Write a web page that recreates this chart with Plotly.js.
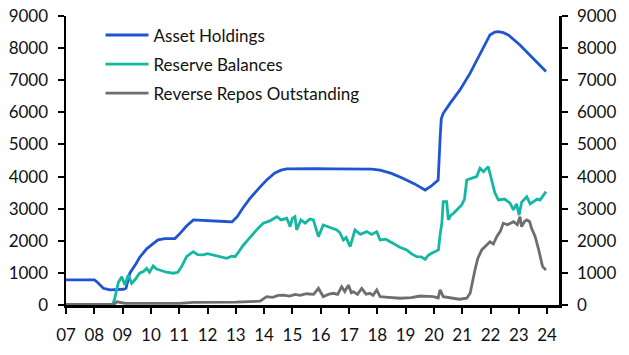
<!DOCTYPE html>
<html><head><meta charset="utf-8">
<script src="https://cdn.plot.ly/plotly-3.0.1.min.js"></script>
<style>html,body{margin:0;padding:0;background:#fff}#c{width:629px;height:355px}</style>
</head><body><div id="c"></div>
<script>
// Decimal-year positions and values (USD bn)
var assetX = [2007.0,2007.5,2008.0,2008.08,2008.2,2008.32,2008.55,2008.8,2009.03,2009.12,2009.26,2009.45,2009.6,2009.85,2010.05,2010.25,2010.5,2010.85,2011.0,2011.25,2011.5,2011.8,2012.2,2012.6,2012.87,2013.05,2013.25,2013.5,2013.86,2014.1,2014.38,2014.6,2014.8,2015.2,2015.8,2016.5,2017.2,2017.8,2018.1,2018.5,2018.9,2019.3,2019.69,2019.9,2020.15,2020.18,2020.22,2020.26,2020.33,2020.57,2020.92,2021.28,2021.63,2021.98,2022.15,2022.28,2022.45,2022.63,2023.04,2023.51,2023.96];
var assetY = [780,780,780,730,620,520,470,480,490,520,1000,1250,1480,1750,1900,2030,2070,2070,2200,2450,2650,2630,2610,2600,2590,2750,3020,3320,3680,3900,4110,4200,4240,4250,4250,4240,4240,4230,4200,4100,3950,3780,3580,3700,3890,4300,5200,5800,5970,6280,6700,7220,7840,8410,8500,8515,8480,8410,8100,7690,7270];

var reserveX = [2007.0,2008.65,2008.72,2008.85,2008.97,2009.08,2009.2,2009.32,2009.45,2009.6,2009.75,2009.85,2009.95,2010.08,2010.2,2010.32,2010.55,2010.79,2010.95,2011.08,2011.26,2011.4,2011.5,2011.65,2011.85,2012.0,2012.2,2012.45,2012.68,2012.85,2012.97,2013.1,2013.27,2013.45,2013.62,2013.8,2013.97,2014.2,2014.45,2014.6,2014.8,2014.92,2015.0,2015.09,2015.15,2015.3,2015.45,2015.62,2015.74,2015.92,2016.09,2016.3,2016.57,2016.68,2016.8,2016.9,2017.04,2017.21,2017.4,2017.63,2017.8,2017.98,2018.1,2018.3,2018.57,2018.8,2019.04,2019.2,2019.39,2019.55,2019.69,2019.8,2019.92,2020.16,2020.22,2020.28,2020.33,2020.45,2020.51,2020.6,2020.69,2020.85,2020.98,2021.08,2021.16,2021.35,2021.51,2021.63,2021.75,2021.92,2022.04,2022.15,2022.28,2022.5,2022.69,2022.81,2022.92,2023.01,2023.1,2023.28,2023.4,2023.51,2023.65,2023.75,2023.85,2023.96];
var reserveY = [10,10,200,700,880,620,935,675,800,990,1050,1140,1020,1215,1120,1090,1020,990,1020,1190,1505,1600,1660,1570,1560,1600,1560,1500,1455,1520,1505,1650,1870,2050,2230,2400,2545,2620,2750,2650,2700,2440,2700,2750,2340,2650,2550,2680,2650,2130,2490,2420,2340,2250,2025,2100,1815,2340,2200,2285,2200,2285,2025,2050,1920,1800,1715,1600,1505,1500,1420,1550,1610,1715,2200,2545,3220,3220,2650,2800,2855,3000,3115,3300,3895,3950,4000,4260,4150,4310,3840,3500,3270,3300,3170,2960,3150,2800,3200,3375,3150,3220,3300,3270,3400,3530];

var repoX = [2007.0,2008.7,2008.8,2008.95,2009.1,2011.0,2011.5,2013.0,2013.7,2013.86,2014.09,2014.3,2014.5,2014.68,2014.9,2015.1,2015.27,2015.5,2015.75,2015.92,2016.09,2016.3,2016.45,2016.6,2016.74,2016.85,2016.98,2017.08,2017.15,2017.3,2017.45,2017.6,2017.74,2017.85,2017.98,2018.1,2018.4,2018.8,2019.2,2019.51,2019.8,2019.98,2020.15,2020.22,2020.33,2020.69,2020.9,2021.16,2021.28,2021.45,2021.55,2021.69,2021.8,2021.98,2022.1,2022.22,2022.35,2022.45,2022.6,2022.81,2022.95,2023.04,2023.1,2023.2,2023.28,2023.38,2023.45,2023.57,2023.69,2023.84,2023.96];
var repoY = [20,20,100,80,50,50,80,90,100,120,260,240,300,310,280,330,300,350,330,520,260,340,365,330,570,420,620,380,415,330,520,340,365,300,470,260,240,210,230,280,270,260,220,470,260,210,180,210,365,1090,1450,1715,1800,1970,1900,2130,2300,2545,2500,2595,2500,2750,2440,2600,2650,2600,2390,2150,1765,1195,1090];

var tickVals = [2007,2008,2009,2010,2011,2012,2013,2014,2015,2016,2017,2018,2019,2020,2021,2022,2023,2024];
var tickText = ["07","08","09","10","11","12","13","14","15","16","17","18","19","20","21","22","23","24"];
var yTicks = [0,1000,2000,3000,4000,5000,6000,7000,8000,9000];

var F = 'Lato, "Noto Sans", sans-serif';
var traces = [
  {x: assetX, y: assetY, name: 'Asset Holdings', type: 'scatter', mode: 'lines', line: {color: '#1f55d3', width: 2.8}, legendgroup: 'a'},
  {x: reserveX, y: reserveY, name: 'Reserve Balances', type: 'scatter', mode: 'lines', line: {color: '#14b8a2', width: 2.8}, legendgroup: 'b'},
  {x: repoX, y: repoY, name: 'Reverse Repos Outstanding', type: 'scatter', mode: 'lines', line: {color: '#6e6e6e', width: 2.8}, legendgroup: 'c'},
  {x: [2007], y: [0], yaxis: 'y2', type: 'scatter', mode: 'lines', showlegend: false, hoverinfo: 'skip', line: {width: 0}}
];
var axisCommon = {range: [0, 9000], tickvals: yTicks, showgrid: false, zeroline: false, showline: true, linecolor: '#000', linewidth: 2.5, ticks: 'outside', ticklen: 6, tickwidth: 2, tickcolor: '#000', ticklabelstandoff: 6, tickfont: {family: F, size: 17, color: '#111'}};
var layout = {
  width: 629, height: 355,
  margin: {l: 66, r: 70, t: 16, b: 50},
  paper_bgcolor: '#fff', plot_bgcolor: '#fff',
  font: {family: F, size: 17, color: '#111'},
  xaxis: {range: [2007, 2024.42], tickvals: tickVals, ticktext: tickText, showgrid: false, zeroline: false, showline: true, linecolor: '#000', linewidth: 3, ticks: 'outside', ticklen: 6, tickwidth: 2, tickcolor: '#000', ticklabelstandoff: 7, tickfont: {family: F, size: 17, color: '#111'}},
  yaxis: Object.assign({}, axisCommon, {side: 'left'}),
  yaxis2: Object.assign({}, axisCommon, {side: 'right', overlaying: 'y'}),
  showlegend: true,
  legend: {x: 0.07, y: 0.995, xanchor: 'left', yanchor: 'top', bgcolor: 'rgba(0,0,0,0)', borderwidth: 0, font: {family: F, size: 17, color: '#111'}, traceorder: 'grouped', tracegroupgap: 4, itemwidth: 43}
};
Plotly.newPlot('c', traces, layout, {displayModeBar: false, staticPlot: true});
</script></body></html>
